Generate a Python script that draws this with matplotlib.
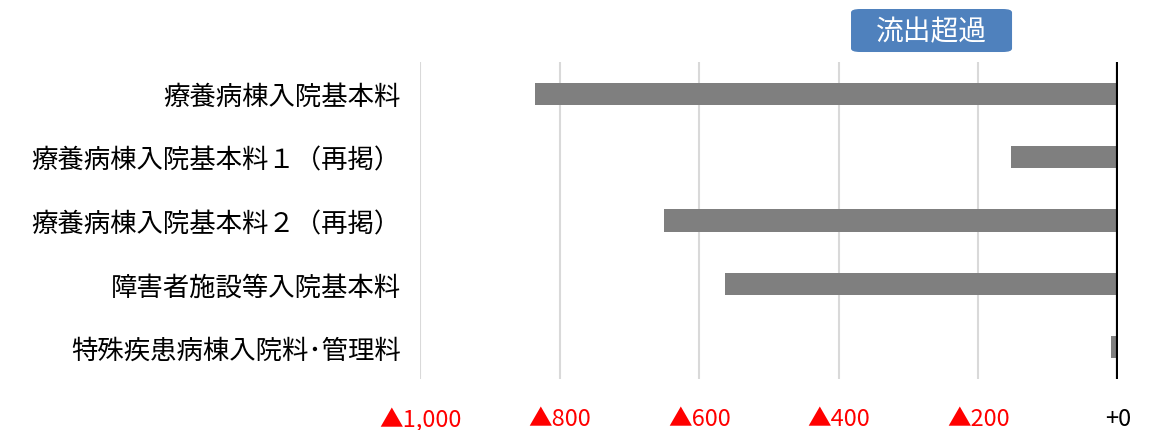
"""Outflow-excess bar chart for inpatient fee categories."""
import matplotlib
matplotlib.use('Agg')
import matplotlib.pyplot as plt
from matplotlib.patches import FancyBboxPatch

plt.rcParams['font.family'] = ['Noto Sans CJK JP', 'DejaVu Sans']

categories = [
    '療養病棟入院基本料',
    '療養病棟入院基本料１（再掲）',
    '療養病棟入院基本料２（再掲）',
    '障害者施設等入院基本料',
    '特殊疾患病棟入院料･管理料',
]
values = [-835, -154, -651, -563, -10]

tick_values = [-1000, -800, -600, -400, -200, 0]
tick_labels = ['▲1,000', '▲800', '▲600', '▲400', '▲200', '+0']

fig = plt.figure(figsize=(11.61, 4.31), dpi=100)
ax = fig.add_axes([0.3618, 0.1183, 0.6012, 0.7355])

y = list(range(len(categories)))
ax.barh(y, values, height=0.35, color='#7f7f7f', zorder=3)
ax.set_yticks(y)
ax.set_yticklabels(categories, fontsize=19)
ax.set_ylim(len(categories) - 0.5, -0.5)

ax.set_xlim(-1000, 0)
ax.set_xticks(tick_values)
ax.set_xticklabels(tick_labels, fontsize=17)
for lbl, v in zip(ax.get_xticklabels(), tick_values):
    lbl.set_color('red' if v < 0 else 'black')

ax.grid(axis='x', color='#d9d9d9', lw=1.5, zorder=0)
ax.axvline(0, color='black', lw=3, zorder=4)
for s in ax.spines.values():
    s.set_visible(False)
ax.tick_params(length=0, pad=20, axis='x')
ax.tick_params(length=0, pad=14, axis='y')

# "流出超過" badge above the chart
badge = FancyBboxPatch((0.733, 0.877), 0.1387, 0.0998,
                       boxstyle='round,pad=0,rounding_size=0.008',
                       transform=fig.transFigure, facecolor='#4f81bd',
                       edgecolor='none')
fig.patches.append(badge)
fig.text(0.8023, 0.926, '流出超過', color='white', fontsize=20,
         ha='center', va='center')

fig.savefig('out.png', dpi=100)
